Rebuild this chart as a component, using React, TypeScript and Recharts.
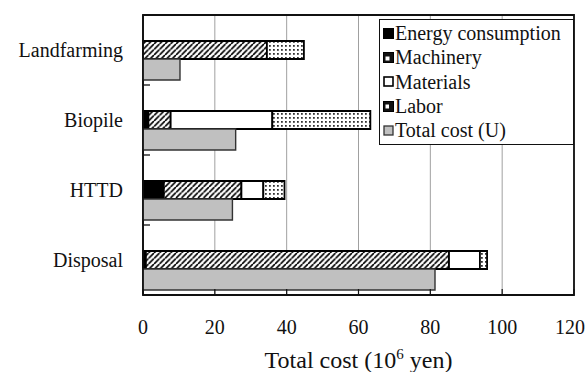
import {
  Bar,
  BarChart,
  CartesianGrid,
  Label,
  ReferenceArea,
  XAxis,
  YAxis,
} from 'recharts'

const categories = ['Landfarming', 'Biopile', 'HTTD', 'Disposal']
const energy = [0, 1.5, 5.8, 0.8]
const machinery = [34.5, 6.2, 21.6, 84.4]
const materials = [0, 28.3, 6.1, 8.6]
const labor = [10.3, 27.3, 5.9, 2.0]
const totalU = [10.3, 25.8, 24.9, 81.3]
const xTicks = [0, 20, 40, 60, 80, 100, 120]

const data = categories.map((name, i) => ({
  name,
  energy: energy[i],
  machinery: machinery[i],
  materials: materials[i],
  labor: labor[i],
  total: totalU[i],
}))

const W = 585
const H = 372
const TOP = 15
const XAXIS_H = 77
const FONT = '"Liberation Serif", "Times New Roman", serif'
const BAND = (H - TOP - XAXIS_H) / categories.length

function CategoryTick(props: any) {
  const { x, y, payload } = props
  const idx = categories.indexOf(payload.value)
  const axisX = x + 20
  return (
    <g>
      <text x={x} y={y} dy="0.35em" textAnchor="end" fontFamily={FONT} fontSize={20} fill="#111">
        {payload.value}
      </text>
      {idx < categories.length - 1 && (
        <line x1={axisX} x2={axisX + 7} y1={y + BAND / 2} y2={y + BAND / 2} stroke="#111" strokeWidth={1.3} />
      )}
    </g>
  )
}

function AxisTitle(props: any) {
  const vb = props.viewBox
  const cx = vb.x + vb.width / 2
  return (
    <text x={cx} y={vb.y + 73} textAnchor="middle" fontFamily={FONT} fontSize={24} fill="#111">
      Total cost (10
      <tspan dy={-9} fontSize={15}>6</tspan>
      <tspan dy={9}> yen)</tspan>
    </text>
  )
}

const legendItems = [
  { label: 'Energy consumption', kind: 'energy' },
  { label: 'Machinery', kind: 'machinery' },
  { label: 'Materials', kind: 'materials' },
  { label: 'Labor', kind: 'labor' },
  { label: 'Total cost (U)', kind: 'total' },
]

function LegendIcon({ kind }: { kind: string }) {
  return (
    <svg width={11} height={11} style={{ marginRight: 1, flexShrink: 0 }}>
      {kind === 'energy' && <rect x={0} y={0} width={11} height={11} fill="#000" />}
      {kind === 'machinery' && (
        <g>
          <rect x={0.5} y={0.5} width={10} height={10} fill="#111" stroke="#000" />
          <rect x={2.5} y={4.5} width={4} height={4} fill="#fff" />
        </g>
      )}
      {kind === 'materials' && <rect x={1} y={1} width={9} height={9} fill="#fff" stroke="#000" strokeWidth={1.6} />}
      {kind === 'labor' && (
        <g>
          <rect x={0.5} y={0.5} width={10} height={10} fill="#111" stroke="#000" />
          <rect x={2.5} y={3.5} width={3.5} height={4} fill="#fff" />
        </g>
      )}
      {kind === 'total' && <rect x={1} y={1} width={9} height={9} fill="#c0c0c0" stroke="#333" strokeWidth={1.3} />}
    </svg>
  )
}

export default function App() {
  return (
    <div style={{ position: 'absolute', left: 0, top: 0, width: W, height: H, background: '#fff' }}>
      <BarChart
        width={W}
        height={H}
        data={data}
        layout="vertical"
        margin={{ top: TOP, right: 11, left: 0, bottom: 0 }}
        barGap={0}
      >
        <defs>
          <pattern id="hatch" width={5.5} height={5.5} patternUnits="userSpaceOnUse">
            <rect width={5.5} height={5.5} fill="#fff" />
            <path d="M-1,6.5 L6.5,-1 M-2,1.5 L1.5,-2 M4,7.5 L7.5,4" stroke="#000" strokeWidth={1.7} />
          </pattern>
          <pattern id="dots" width={4} height={4} patternUnits="userSpaceOnUse">
            <rect width={4} height={4} fill="#fff" />
            <rect x={1.1} y={1.1} width={1.6} height={1.6} fill="#000" />
          </pattern>
        </defs>
        <CartesianGrid horizontal={false} stroke="#a0a0a0" strokeWidth={1} />
        <XAxis
          type="number"
          domain={[0, 120]}
          ticks={xTicks}
          height={XAXIS_H}
          tickSize={-6}
          tickMargin={31}
          axisLine={{ stroke: '#111', strokeWidth: 1.5 }}
          tickLine={{ stroke: '#111', strokeWidth: 1.2 }}
          tick={{ fontFamily: FONT, fontSize: 20, fill: '#111' }}
        >
          <Label content={<AxisTitle />} />
        </XAxis>
        <YAxis
          type="category"
          dataKey="name"
          width={143}
          tickLine={false}
          tickMargin={14}
          axisLine={{ stroke: '#111', strokeWidth: 1.5 }}
          tick={<CategoryTick />}
        />
        {/* empty slot above the stacked bar so the stack sits on the category centre */}
        <Bar dataKey="spacer" stackId="pad" barSize={21} fill="none" isAnimationActive={false} />
        <Bar dataKey="energy" stackId="a" barSize={18} fill="#000" stroke="#000" strokeWidth={1.8} isAnimationActive={false} />
        <Bar dataKey="machinery" stackId="a" barSize={18} fill="url(#hatch)" stroke="#000" strokeWidth={1.8} isAnimationActive={false} />
        <Bar dataKey="materials" stackId="a" barSize={18} fill="#fff" stroke="#000" strokeWidth={1.8} isAnimationActive={false} />
        <Bar dataKey="labor" stackId="a" barSize={18} fill="url(#dots)" stroke="#000" strokeWidth={1.8} isAnimationActive={false} />
        <Bar dataKey="total" stackId="tot" barSize={21} fill="#c0c0c0" stroke="#333" strokeWidth={1.4} isAnimationActive={false} />
        <ReferenceArea x1={0} x2={120} fill="none" fillOpacity={0} stroke="#111" strokeWidth={1.8} />
      </BarChart>
      <div
        style={{
          position: 'absolute',
          left: 379,
          top: 19,
          width: 190,
          height: 123,
          border: '1.5px solid #111',
          background: '#fff',
          fontFamily: FONT,
          fontSize: 20,
          color: '#111',
          paddingLeft: 3,
          paddingTop: 1,
          boxSizing: 'content-box',
        }}
      >
        {legendItems.map((it) => (
          <div key={it.kind} style={{ display: 'flex', alignItems: 'center', height: 24.3, lineHeight: '24px', whiteSpace: 'nowrap' }}>
            <LegendIcon kind={it.kind} />
            <span>{it.label}</span>
          </div>
        ))}
      </div>
    </div>
  )
}
